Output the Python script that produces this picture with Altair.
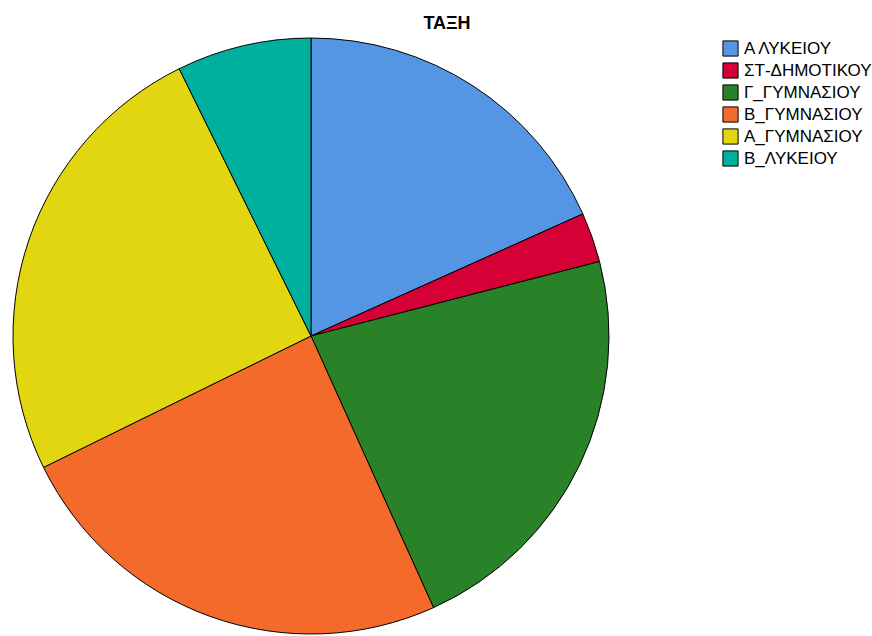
import altair as alt
import pandas as pd

categories = ["Α ΛΥΚΕΙΟΥ", "ΣΤ-ΔΗΜΟΤΙΚΟΥ", "Γ_ΓΥΜΝΑΣΙΟΥ", "Β_ΓΥΜΝΑΣΙΟΥ", "Α_ΓΥΜΝΑΣΙΟΥ", "Β_ΛΥΚΕΙΟΥ"]
values = [18.3, 2.7, 22.3, 24.5, 25.0, 7.3]
colors = ["#5496E4", "#D50036", "#2A8228", "#F36A2B", "#E2D611", "#00B09E"]

df = pd.DataFrame({"ΤΑΞΗ": categories, "value": values, "idx": list(range(len(categories)))})

TOP = 30

chart = alt.Chart(df).mark_arc(radius=298, stroke="black", strokeWidth=1).encode(
    theta=alt.Theta("value:Q", stack=True),
    order=alt.Order("idx:Q"),
    color=alt.Color(
        "ΤΑΞΗ:N",
        sort=categories,
        scale=alt.Scale(domain=categories, range=colors),
        legend=alt.Legend(
            title=None,
            orient="none",
            legendX=722,
            legendY=40 - TOP,
            symbolType="square",
            symbolSize=230,
            symbolStrokeColor="black",
            symbolStrokeWidth=1,
            symbolOpacity=1,
            labelFont="Liberation Sans",
            labelFontSize=17,
            labelColor="black",
            labelOffset=5,
            rowPadding=1,
            labelLimit=300,
        ),
    ),
    x=alt.value(311),
    y=alt.value(336 - TOP),
).properties(
    width=872,
    height=636 - TOP,
    padding={"left": 0, "top": TOP, "right": 0, "bottom": 0},
    autosize=alt.AutoSizeParams(type="none"),
    title=alt.TitleParams(
        "ΤΑΞΗ",
        anchor="middle",
        font="Liberation Sans",
        fontSize=18,
        fontWeight="bold",
        color="black",
        dx=11,
        offset=0,
        dy=3,
    ),
).configure_view(stroke=None)

chart.save("out.html", embed_options={"renderer": "svg", "actions": False})
